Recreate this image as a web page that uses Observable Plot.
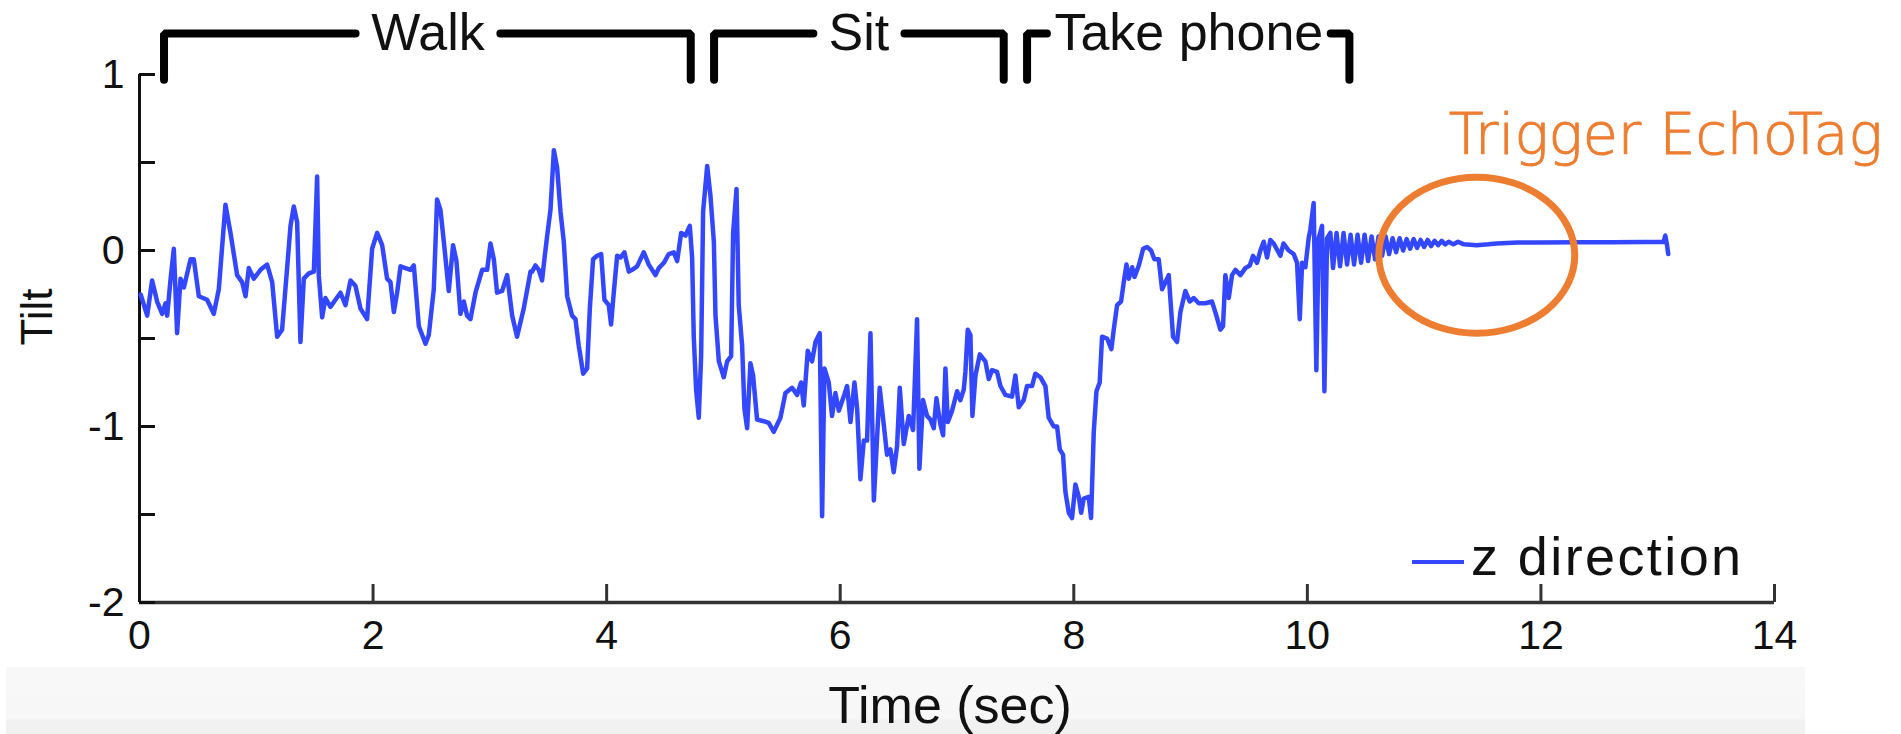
<!DOCTYPE html>
<html>
<head>
<meta charset="utf-8">
<script src="https://cdn.jsdelivr.net/npm/d3@7"></script>
<script src="https://cdn.jsdelivr.net/npm/@observablehq/plot@0.6"></script>
<style>
html, body { margin: 0; padding: 0; background: #fff; }
#wrap { position: relative; width: 1901px; height: 734px; overflow: hidden;
  font-family: "Liberation Sans", Arial, Helvetica, sans-serif; color: #111; }
#chart svg { display: block; }
#band { position: absolute; left: 6px; top: 667px; width: 1799px; height: 67px;
  background: linear-gradient(#f8f8f8 0px, #f7f7f7 52px, #f1f1f1 53px, #f1f1f1 67px); }
#xlabel { position: absolute; left: 0; top: 679px; width: 1900px; text-align: center;
  font-size: 52px; line-height: 52px; white-space: nowrap; }
#ylabel { position: absolute; left: -63px; top: 293px; width: 200px; text-align: center;
  font-size: 44px; line-height: 48px; transform: rotate(-90deg); white-space: nowrap; }
#legend-line { position: absolute; left: 1412px; top: 560px; width: 52px; height: 3.5px; background: #3347ff; }
#legend-text { position: absolute; left: 1471px; top: 529px; font-size: 54px; line-height: 54px; letter-spacing: 2.4px; white-space: nowrap; }
</style>
</head>
<body>
<div id="wrap">
  <div id="chart"></div>
  <div id="band"></div>
  <div id="xlabel"></div>
  <div id="ylabel"></div>
  <div id="legend-line"></div>
  <div id="legend-text"></div>
</div>
<script>
// ---- data ----
const seriesName = "z direction";
const xTitle = "Time (sec)";
const yTitle = "Tilt";

const time = [
  0.01,0.066,0.108,0.151,0.194,0.223,0.237,0.265,0.294,0.322,0.351,0.380,0.437,0.465,0.508,0.579,0.636,0.679,0.736,0.779,
  0.836,0.879,0.908,0.936,0.979,1.036,1.093,1.136,1.179,1.221,1.264,1.293,1.321,1.350,1.378,1.407,1.450,1.493,1.521,1.535,
  1.564,1.592,1.635,1.678,1.721,1.764,1.807,1.849,1.892,1.949,1.992,2.035,2.078,2.120,2.149,2.178,2.206,2.235,2.277,2.320,
  2.349,2.392,2.449,2.477,2.520,2.548,2.577,2.606,2.648,2.685,2.714,2.748,2.777,2.805,2.834,2.877,2.934,2.977,3.005,3.034,
  3.062,3.105,3.148,3.191,3.233,3.290,3.348,3.362,3.390,3.419,3.447,3.467,3.490,3.519,3.548,3.576,3.605,3.633,3.662,3.704,
  3.733,3.761,3.799,3.833,3.856,3.884,3.918,3.953,3.981,4.018,4.038,4.061,4.090,4.118,4.152,4.190,4.218,4.261,4.318,4.361,
  4.418,4.447,4.490,4.532,4.575,4.604,4.638,4.675,4.712,4.732,4.746,4.766,4.789,4.809,4.826,4.861,4.889,4.918,4.932,4.961,
  5.003,5.032,5.066,5.083,5.112,5.131,5.160,5.180,5.203,5.231,5.254,5.288,5.345,5.388,5.431,5.488,5.531,5.588,5.631,5.665,
  5.688,5.722,5.759,5.788,5.825,5.845,5.865,5.902,5.930,5.959,5.988,6.030,6.059,6.088,6.122,6.145,6.173,6.202,6.230,6.259,
  6.288,6.338,6.373,6.401,6.430,6.458,6.487,6.510,6.544,6.587,6.624,6.658,6.678,6.709,6.744,6.772,6.801,6.824,6.858,6.881,
  6.901,6.921,6.958,7.001,7.029,7.058,7.072,7.092,7.115,7.132,7.158,7.195,7.243,7.272,7.300,7.343,7.372,7.414,7.471,7.500,
  7.529,7.571,7.600,7.643,7.671,7.714,7.757,7.785,7.828,7.857,7.880,7.908,7.928,7.957,7.985,8.014,8.043,8.063,8.085,8.128,
  8.148,8.171,8.194,8.222,8.242,8.285,8.322,8.342,8.371,8.405,8.428,8.451,8.471,8.500,8.520,8.557,8.594,8.627,8.662,8.690,
  8.727,8.756,8.784,8.813,8.833,8.850,8.884,8.913,8.955,8.993,9.027,9.070,9.127,9.184,9.221,9.255,9.278,9.298,9.327,9.355,
  9.384,9.427,9.469,9.507,9.535,9.569,9.598,9.626,9.655,9.683,9.712,9.769,9.795,9.840,9.883,9.912,9.935,9.955,9.983,10.011,
  10.026,10.054,10.077,10.097,10.126,10.146,10.169,10.197,10.22,10.25,10.28,10.31,10.34,10.37,10.40,10.43,10.46,10.49,10.52,10.55,
  10.58,10.61,10.64,10.67,10.70,10.73,10.76,10.79,10.82,10.85,10.88,10.91,10.94,10.97,11.00,11.03,11.06,11.09,11.12,11.15,
  11.18,11.21,11.25,11.29,11.34,11.45,11.55,11.62,11.80,12.00,12.30,12.60,12.90,13.05,13.065,13.08,13.09
];
const tilt = [
  -0.25,-0.37,-0.17,-0.29,-0.36,-0.30,-0.37,-0.17,0.01,-0.47,-0.16,-0.21,-0.05,-0.05,-0.26,-0.28,-0.36,-0.22,0.26,0.10,
  -0.14,-0.18,-0.26,-0.10,-0.16,-0.11,-0.08,-0.18,-0.49,-0.45,-0.10,0.14,0.25,0.16,-0.52,-0.16,-0.13,-0.12,0.42,-0.14,
  -0.38,-0.27,-0.32,-0.28,-0.24,-0.31,-0.17,-0.20,-0.33,-0.39,0.01,0.10,0.03,-0.16,-0.18,-0.35,-0.24,-0.09,-0.10,-0.11,
  -0.085,-0.43,-0.53,-0.48,-0.22,0.29,0.23,0.05,-0.23,0.03,-0.06,-0.36,-0.29,-0.37,-0.39,-0.24,-0.11,-0.11,0.04,-0.05,
  -0.24,-0.23,-0.14,-0.37,-0.49,-0.33,-0.12,-0.12,-0.085,-0.11,-0.17,-0.05,0.08,0.23,0.57,0.47,0.22,0.05,-0.26,-0.37,
  -0.39,-0.54,-0.70,-0.67,-0.33,-0.05,-0.03,-0.02,-0.28,-0.31,-0.42,-0.24,-0.03,-0.04,-0.01,-0.12,-0.11,-0.09,-0.01,-0.08,
  -0.14,-0.10,-0.07,-0.02,-0.01,-0.06,0.10,0.085,0.14,-0.04,-0.49,-0.79,-0.95,-0.60,0.22,0.48,0.31,0.05,-0.37,-0.63,
  -0.72,-0.63,-0.60,0.10,0.35,-0.31,-0.54,-0.90,-1.01,-0.64,-0.71,-0.96,-0.97,-0.98,-1.03,-0.95,-0.81,-0.78,-0.82,-0.75,
  -0.88,-0.57,-0.63,-0.52,-0.47,-1.51,-0.67,-0.75,-0.94,-0.81,-0.91,-0.83,-0.77,-0.975,-0.75,-0.90,-1.30,-1.08,-1.08,-0.47,
  -1.42,-0.78,-0.99,-1.16,-1.13,-1.26,-1.11,-0.78,-1.10,-0.94,-1.02,-0.39,-1.24,-0.85,-0.94,-0.96,-1.01,-0.84,-0.99,-1.05,
  -0.67,-0.975,-0.91,-0.80,-0.85,-0.79,-0.69,-0.45,-0.48,-0.94,-0.71,-0.59,-0.63,-0.73,-0.68,-0.69,-0.77,-0.82,-0.83,-0.71,
  -0.89,-0.85,-0.77,-0.77,-0.70,-0.72,-0.77,-0.95,-1.00,-1.00,-1.13,-1.16,-1.37,-1.49,-1.52,-1.33,-1.40,-1.49,-1.41,-1.40,
  -1.52,-1.03,-0.80,-0.75,-0.49,-0.50,-0.56,-0.45,-0.31,-0.29,-0.18,-0.08,-0.16,-0.095,-0.15,-0.085,0.01,0.02,0.00,-0.05,
  -0.05,-0.22,-0.18,-0.14,-0.33,-0.49,-0.52,-0.35,-0.23,-0.29,-0.27,-0.30,-0.30,-0.29,-0.37,-0.45,-0.43,-0.14,-0.27,-0.14,
  -0.11,-0.14,-0.10,-0.085,-0.03,-0.07,0.00,0.05,-0.04,0.06,0.04,-0.03,0.04,0.00,-0.02,-0.07,-0.39,-0.07,-0.095,0.07,
  0.12,0.27,-0.68,0.07,0.14,-0.80,0.07,0.10,-0.10,0.10,-0.09,0.10,-0.08,0.09,-0.08,0.09,-0.07,0.09,-0.06,0.08,
  -0.05,0.08,-0.03,0.08,-0.02,0.07,-0.01,0.07,0.00,0.065,0.01,0.065,0.015,0.06,0.02,0.06,0.025,0.055,0.03,0.055,
  0.035,0.05,0.035,0.05,0.035,0.03,0.035,0.04,0.045,0.046,0.047,0.047,0.048,0.048,0.085,0.03,-0.02
];

const xTicks = [0, 2, 4, 6, 8, 10, 12, 14];
const yLabelTicks = [-2, -1, 0, 1];
const yMinorTicks = [-2, -1.5, -1, -0.5, 0, 0.5, 1];

// activity phases (seconds): bracket span and the gap left for the label
const phaseNames = ["Walk", "Sit", "Take phone"];
const phaseStart = [0.21, 4.92, 7.60];
const phaseEnd = [4.72, 7.40, 10.36];
const gapStart = [1.85, 5.77, 7.77];
const gapEnd = [3.09, 6.55, 10.20];

const annotationText = "Trigger EchoTag";

// ---- build ----
const BLUE = "#3347ff";
const ORANGE = "#ED7D31";
const bracketTop = 1.233, bracketBottom = 0.97;

const series = time.map((t, i) => ({t, v: tilt[i]}));

const bracketPts = [];
phaseNames.forEach((name, i) => {
  bracketPts.push({k: name + "L", x: phaseStart[i], y: bracketBottom});
  bracketPts.push({k: name + "L", x: phaseStart[i], y: bracketTop});
  bracketPts.push({k: name + "L", x: gapStart[i], y: bracketTop});
  bracketPts.push({k: name + "R", x: gapEnd[i], y: bracketTop});
  bracketPts.push({k: name + "R", x: phaseEnd[i], y: bracketTop});
  bracketPts.push({k: name + "R", x: phaseEnd[i], y: bracketBottom});
});
const phaseLabels = phaseNames.map((name, i) => ({name, x: (gapStart[i] + gapEnd[i]) / 2, y: bracketTop}));

const ellipse = {t: 11.455, v: -0.03, rt: 0.839, rv: 0.443};
const annot = [{text: annotationText, t: 11.21, v: 0.55}];

const plot = Plot.plot({
  width: 1901,
  height: 667,
  marginLeft: 139,
  marginRight: 127,
  marginTop: 74,
  marginBottom: 65,
  x: {domain: [0, 14], axis: null},
  y: {domain: [-2, 1], axis: null},
  style: {fontFamily: '"Liberation Sans", Arial, Helvetica, sans-serif', background: "transparent", overflow: "visible", color: "#111"},
  marks: [
    Plot.ruleX([0], {stroke: "#111", strokeWidth: 3}),
    Plot.ruleY([-2], {stroke: "#333", strokeWidth: 3.5}),
    Plot.axisY(yMinorTicks, {tickSize: -16, stroke: "#111", strokeWidth: 3, tickFormat: () => "", label: null}),
    Plot.axisY(yLabelTicks, {tickSize: 0, tickPadding: 15, fontSize: 41, tickFormat: d => String(d), label: null, fill: "#111"}),
    Plot.axisX(xTicks.slice(1), {tickSize: -18, stroke: "#333", strokeWidth: 3, tickFormat: () => "", label: null}),
    Plot.axisX(xTicks, {tickSize: 0, tickPadding: 17, fontSize: 41, tickFormat: d => String(d), label: null, fill: "#111"}),
    Plot.line(series, {x: "t", y: "v", stroke: BLUE, strokeWidth: 4.5, strokeLinejoin: "round"}),
    Plot.line(bracketPts, {x: "x", y: "y", z: "k", stroke: "#000", strokeWidth: 8, strokeLinecap: "round", strokeLinejoin: "miter"}),
    Plot.text(phaseLabels, {x: "x", y: "y", text: "name", fontSize: 52, fill: "#111"}),
    Plot.text(annot, {x: "t", y: "v", text: "text", textAnchor: "start", lineAnchor: "bottom", fontSize: 57,
      fill: ORANGE, stroke: ORANGE, strokeWidth: 1, fontFamily: '"DejaVu Sans", sans-serif', fontWeight: 300})
  ]
});

// orange ellipse annotation, placed through the chart's own scales
const sx = plot.scale("x"), sy = plot.scale("y");
const cx = sx.apply(ellipse.t), cy = sy.apply(ellipse.v);
d3.select(plot).append("ellipse")
  .attr("cx", cx).attr("cy", cy)
  .attr("rx", sx.apply(ellipse.t + ellipse.rt) - cx)
  .attr("ry", cy - sy.apply(ellipse.v + ellipse.rv))
  .attr("fill", "none").attr("stroke", ORANGE).attr("stroke-width", 7);

document.getElementById("chart").appendChild(plot);
document.getElementById("xlabel").textContent = xTitle;
document.getElementById("ylabel").textContent = yTitle;
document.getElementById("legend-text").textContent = seriesName;
</script>
</body>
</html>
